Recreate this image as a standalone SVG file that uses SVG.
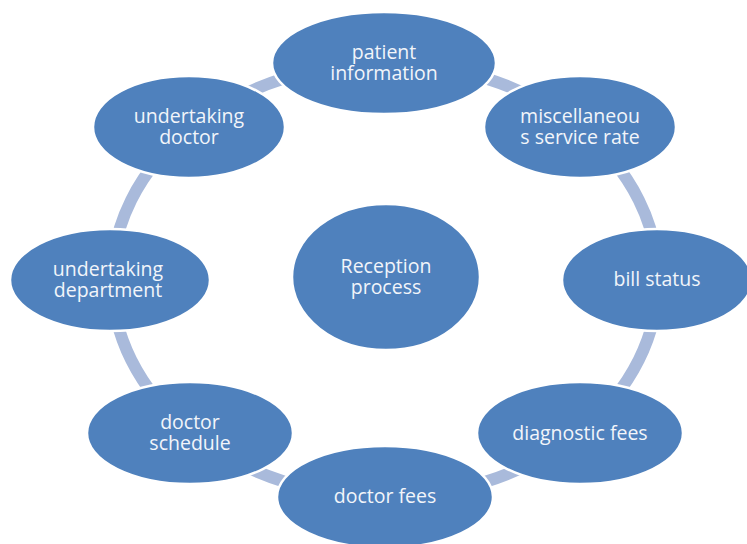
<svg xmlns="http://www.w3.org/2000/svg" width="747" height="544" viewBox="0 0 747 544">
<style>
.n{fill:#4f81bd;stroke:#ffffff;stroke-width:2.5}
.t{font-family:"Open Sans","Liberation Sans",sans-serif;font-size:19.5px;fill:#f2f5fa;text-anchor:middle}
.c{fill:none;stroke:#a9badb;stroke-width:12}
</style>
<rect width="747" height="544" fill="#ffffff"/>
<g id="connectors">
<ellipse class="c" cx="385" cy="280" rx="273" ry="217"/>
</g>
<g id="reception"><ellipse class="n" cx="386" cy="277" rx="94" ry="73"/><text class="t" x="386" y="273">Reception</text><text class="t" x="386" y="294">process</text></g>
<g id="patient-information"><ellipse class="n" cx="384" cy="63" rx="112" ry="51"/><text class="t" x="384" y="59">patient</text><text class="t" x="384" y="80">information</text></g>
<g id="misc-service-rate"><ellipse class="n" cx="580" cy="127" rx="96" ry="51"/><text class="t" x="580" y="123">miscellaneou</text><text class="t" x="580" y="144">s service rate</text></g>
<g id="bill-status"><ellipse class="n" cx="657" cy="280" rx="95" ry="51"/><text class="t" x="657" y="286">bill status</text></g>
<g id="diagnostic-fees"><ellipse class="n" cx="580" cy="433" rx="103" ry="51"/><text class="t" x="580" y="440">diagnostic fees</text></g>
<g id="doctor-fees"><ellipse class="n" cx="385" cy="497" rx="108" ry="51"/><text class="t" x="385" y="503">doctor fees</text></g>
<g id="doctor-schedule"><ellipse class="n" cx="190" cy="433" rx="103" ry="51"/><text class="t" x="190" y="429">doctor</text><text class="t" x="190" y="450">schedule</text></g>
<g id="undertaking-department"><ellipse class="n" cx="110" cy="280" rx="100" ry="51"/><text class="t" x="108" y="276">undertaking</text><text class="t" x="108" y="297">department</text></g>
<g id="undertaking-doctor"><ellipse class="n" cx="189" cy="127" rx="96" ry="51"/><text class="t" x="189" y="123">undertaking</text><text class="t" x="189" y="144">doctor</text></g>
</svg>
